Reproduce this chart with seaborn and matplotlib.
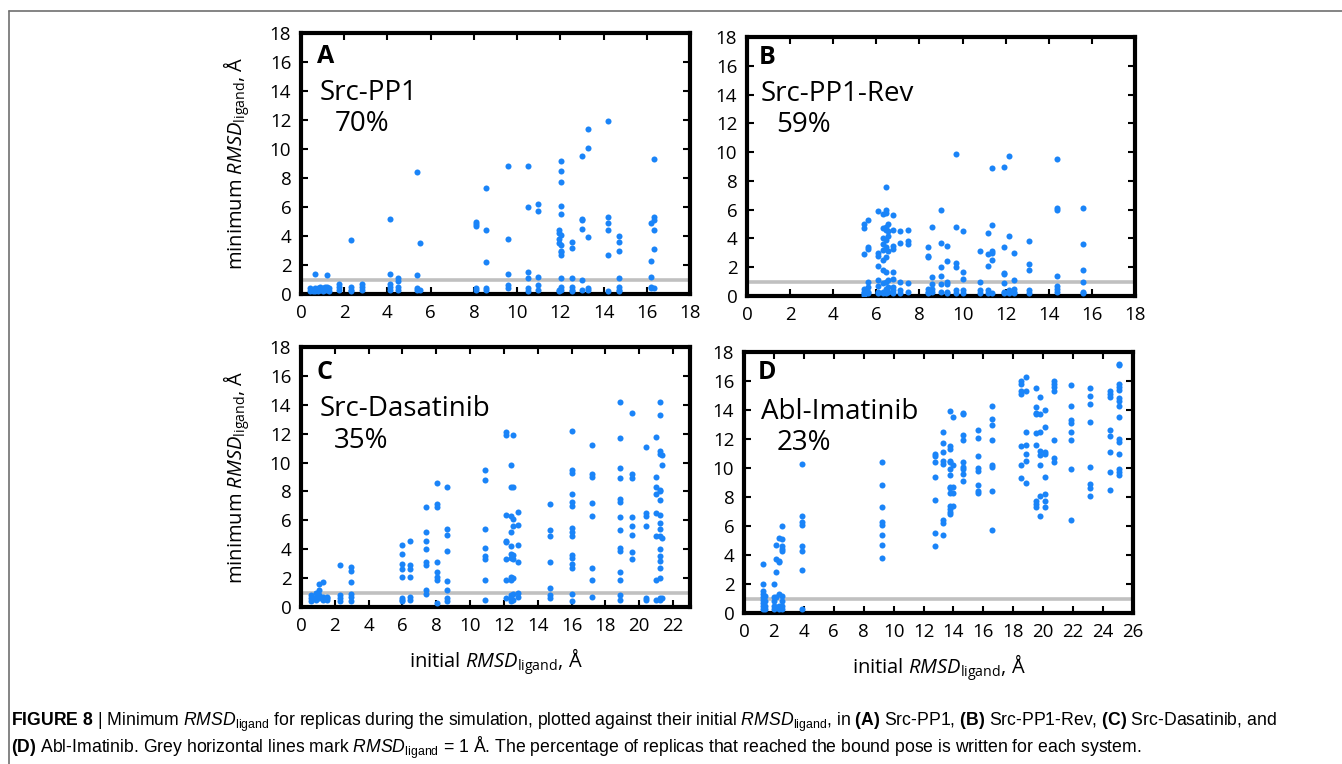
import matplotlib
matplotlib.use("Agg")
import matplotlib.pyplot as plt
import seaborn as sns
import pandas as pd
from matplotlib import font_manager
from matplotlib.lines import Line2D

# ---------------- data ----------------
# Panel A: Src-PP1  (column x positions and the minimum RMSD values in each column)
a_x = [0.4, 0.55, 0.65, 0.8, 0.9, 1.0, 1.1, 1.2, 1.3, 1.75, 2.3, 2.8, 4.1, 4.5, 5.35, 5.5,
       8.1, 8.55, 9.6, 10.5, 10.95, 11.95, 12.05, 12.55, 13.0, 13.3, 14.2, 14.7, 16.2, 16.35]
a_y = [[0.4, 0.2], [0.3, 0.2], [1.4, 0.4, 0.2], [0.4, 0.2], [0.5, 0.3], [0.4, 0.2], [0.5, 0.3],
       [1.3, 0.5, 0.3], [0.4, 0.2], [0.7, 0.5, 0.3], [3.7, 0.5, 0.3, 0.2], [0.7, 0.5, 0.3],
       [5.2, 1.4, 0.7, 0.5, 0.3], [1.1, 0.9, 0.5, 0.3], [8.4, 1.3, 0.4, 0.3], [3.5, 0.3],
       [5.0, 4.85, 4.7, 0.4, 0.3], [7.3, 4.4, 2.2, 0.4, 0.3], [8.8, 3.8, 1.4, 0.6, 0.4],
       [8.8, 6.0, 1.5, 1.1, 0.4, 0.2], [6.2, 5.7, 1.2, 0.6, 0.3], [4.4, 4.2, 3.8, 3.5, 0.3, 0.2],
       [9.2, 8.5, 7.7, 6.1, 5.5, 4.1, 3.4, 3.0, 2.9, 2.7, 1.1, 0.5, 0.3],
       [3.6, 3.2, 1.1, 0.5, 0.3, 0.2], [9.5, 5.2, 5.1, 4.5, 1.0, 0.3], [11.4, 10.1, 3.9, 0.4, 0.3],
       [11.9, 5.3, 4.9, 4.4, 2.7, 0.2], [4.0, 3.6, 3.0, 1.1, 0.5, 0.3, 0.2],
       [4.9, 2.3, 1.2, 0.5, 0.4], [9.3, 5.3, 5.1, 4.4, 3.1, 0.4]]

# Panel B: Src-PP1-Rev
b_x = [5.45, 5.6, 6.1, 6.3, 6.45, 6.55, 6.75, 7.1, 7.45, 8.4, 8.6, 9.0, 9.3, 9.7, 10.0,
       10.8, 11.2, 11.35, 11.9, 12.15, 12.4, 13.1, 14.4, 15.6]
b_y = [[5.0, 4.7, 2.9, 0.5, 0.3, 0.2, 0.1], [5.3, 3.4, 3.3, 1.0, 0.6, 0.3, 0.2],
       [5.9, 3.0, 2.8, 2.1, 1.1, 0.7, 0.3, 0.2], [5.7, 4.7, 4.0, 3.6, 3.2, 2.5, 1.8, 0.9, 0.3, 0.2],
       [7.6, 6.0, 5.8, 4.8, 4.6, 3.9, 3.4, 2.7, 1.7, 1.0, 0.5, 0.3, 0.2],
       [5.0, 4.5, 4.2, 3.1, 1.1, 0.6, 0.3], [5.6, 4.6, 3.5, 3.3, 1.7, 1.2, 0.6, 0.4, 0.2],
       [4.5, 3.7, 1.0, 0.4, 0.2], [4.6, 3.8, 3.6, 0.9, 0.3], [3.4, 2.8, 2.7, 0.5, 0.3, 0.2],
       [4.8, 1.3, 0.8, 0.5, 0.3], [6.0, 3.7, 2.0, 1.4, 0.8, 0.3], [3.5, 2.4, 1.0, 0.8, 0.3, 0.2],
       [9.9, 4.8, 2.3, 2.0, 0.4, 0.2], [4.5, 1.7, 1.2, 0.4, 0.2], [3.1, 1.0, 0.4, 0.2],
       [4.4, 2.9, 2.1, 0.4, 0.2], [8.9, 4.9, 3.1, 3.0, 2.5, 0.2], [9.0, 3.4, 1.6, 1.5, 0.9, 0.3, 0.2],
       [9.7, 4.2, 0.4, 0.2], [3.0, 1.1, 0.5, 0.3, 0.2], [3.8, 2.2, 1.8, 0.4, 0.2],
       [9.5, 6.1, 6.0, 1.4, 0.7, 0.5, 0.3], [6.1, 3.6, 1.8, 1.0, 0.3, 0.2]]

# Panel C: Src-Dasatinib
c_x = [0.6, 0.9, 1.05, 1.3, 1.55, 2.3, 2.95, 5.95, 6.45, 7.4, 8.05, 8.65, 10.85, 12.1, 12.4,
       12.55, 12.85, 14.75, 16.05, 17.2, 18.85, 19.6, 20.4, 21.0, 21.2, 21.35]
c_y = [[0.8, 0.6, 0.4], [1.0, 0.7, 0.5], [1.6, 1.2, 0.8, 0.6], [1.7, 0.7, 0.5], [0.7, 0.6, 0.5],
       [2.9, 0.8, 0.6, 0.4], [2.8, 2.5, 1.7, 0.9, 0.7, 0.4],
       [4.3, 3.7, 3.0, 2.6, 2.1, 0.6, 0.5, 0.4], [4.6, 2.9, 2.6, 2.1, 0.7, 0.5],
       [6.9, 5.2, 4.6, 4.0, 3.1, 2.9, 1.2, 0.9], [8.6, 7.1, 6.9, 3.1, 2.4, 2.1, 1.9, 0.3],
       [8.3, 5.4, 5.0, 3.9, 1.8, 1.2, 0.6, 0.4], [9.5, 8.8, 5.4, 4.1, 3.5, 3.3, 1.9, 0.5],
       [12.1, 11.9, 6.4, 4.6, 4.5, 3.3, 1.9, 0.6],
       [9.8, 8.3, 6.3, 5.2, 4.2, 3.7, 3.4, 2.1, 1.9, 0.8, 0.6, 0.4],
       [11.9, 8.3, 6.1, 5.6, 3.6, 3.3, 2.0, 0.9, 0.5], [6.6, 5.7, 4.3, 3.1, 1.0, 0.7],
       [7.1, 5.3, 4.9, 3.1, 1.3, 0.8, 0.6],
       [12.2, 9.5, 9.3, 7.8, 7.3, 7.0, 5.5, 5.2, 4.9, 3.6, 3.4, 3.0, 2.7, 0.9, 0.4],
       [11.2, 9.2, 9.0, 7.2, 6.3, 2.7, 1.9, 0.7],
       [14.2, 11.7, 9.6, 8.9, 7.5, 7.3, 6.2, 5.3, 4.1, 3.9, 2.4, 1.9, 0.8, 0.5],
       [13.4, 9.2, 8.9, 6.2, 5.6, 5.0, 3.8, 3.3], [11.1, 6.5, 6.3, 5.6, 0.6, 0.5],
       [11.8, 9.0, 8.3, 7.8, 6.5, 4.9, 1.9, 0.5],
       [14.2, 13.3, 10.8, 10.6, 8.1, 8.0, 7.4, 6.4, 5.8, 5.4, 4.9, 4.0, 3.5, 3.2, 2.7, 2.0, 0.6, 0.5],
       [10.5, 9.8, 4.8, 0.6]]

# Panel D: Abl-Imatinib
d_x = [1.3, 1.4, 2.0, 2.15, 2.35, 2.55, 3.85, 9.2, 12.75, 13.3, 13.8, 13.95, 14.65, 15.65,
       16.55, 18.5, 18.85, 19.5, 19.8, 20.1, 20.7, 21.85, 23.1, 24.45, 25.05]
d_y = [[3.4, 2.0, 1.5, 1.3, 1.1, 0.9, 0.7, 0.5, 0.3], [1.2, 0.8, 0.5, 0.3],
       [2.0, 1.1, 0.8, 0.5, 0.3], [4.7, 3.7, 2.8, 1.1, 0.4], [5.2, 3.6, 3.5, 1.3, 0.5, 0.3],
       [6.0, 5.1, 4.6, 4.4, 4.3, 1.2, 0.8, 0.5, 0.3], [10.3, 6.7, 6.3, 6.1, 4.6, 4.3, 3.0, 0.3],
       [10.4, 8.8, 7.3, 6.3, 6.1, 5.4, 4.7, 3.8], [11.0, 10.8, 10.4, 9.4, 7.8, 5.5, 4.6],
       [12.5, 11.7, 11.1, 10.5, 10.3, 6.4, 6.2, 5.4],
       [13.9, 11.5, 11.3, 10.5, 10.4, 9.9, 9.5, 8.7, 8.6, 8.3, 7.4, 7.2, 7.0, 6.8],
       [13.5, 10.2, 8.7, 8.3, 7.4], [13.8, 13.7, 12.3, 11.9, 10.4, 10.1, 9.9, 9.6, 9.1],
       [12.6, 12.1, 10.8, 10.0, 9.8, 8.8, 8.4, 8.3], [14.3, 13.4, 13.0, 11.9, 10.2, 10.1, 8.4, 5.7],
       [16.0, 15.8, 15.3, 15.1, 11.5, 10.2, 9.3], [16.3, 15.3, 12.5, 11.6, 11.0, 10.5, 9.0],
       [15.5, 14.2, 13.8, 13.7, 12.4, 11.6, 7.7, 7.5, 7.3], [14.9, 13.7, 12.5, 11.2, 10.9, 10.2, 8.1, 6.7],
       [14.0, 12.8, 11.1, 11.0, 9.4, 8.2, 7.7, 7.3], [16.0, 15.8, 15.6, 15.3, 11.9, 10.7, 10.4],
       [15.7, 14.3, 13.3, 13.1, 12.5, 11.9, 9.9, 6.4], [15.5, 15.0, 14.4, 13.2, 10.1, 8.9, 8.6, 8.1],
       [15.3, 15.1, 14.9, 12.6, 12.2, 11.1, 9.7, 8.5],
       [17.2, 17.1, 15.8, 15.6, 15.4, 14.8, 14.6, 14.3, 13.5, 12.0, 11.8, 11.0, 9.9, 9.7, 9.5]]

panel_letters = ["A", "B", "C", "D"]
system_names = ["Src-PP1", "Src-PP1-Rev", "Src-Dasatinib", "Abl-Imatinib"]
percentages = ["70%", "59%", "35%", "23%"]
x_limits = [18, 18, 23, 26]
x_tick_max = [18, 18, 22, 26]
y_ticks = list(range(0, 19, 2))
threshold = 1.0


def to_frame(xs, ys):
    rows = [(x, y) for x, col in zip(xs, ys) for y in col]
    return pd.DataFrame(rows, columns=["initial", "minimum"])


frames = [to_frame(a_x, a_y), to_frame(b_x, b_y), to_frame(c_x, c_y), to_frame(d_x, d_y)]

# ---------------- style ----------------
sns.set_theme(style="ticks")
avail = {f.name for f in font_manager.fontManager.ttflist}
main_font = "Open Sans" if "Open Sans" in avail else "DejaVu Sans"
cap_font = "Liberation Sans Narrow" if "Liberation Sans Narrow" in avail else "Liberation Sans"
plt.rcParams["font.family"] = [main_font, "DejaVu Sans"]
plt.rcParams["text.color"] = "black"
plt.rcParams["axes.labelcolor"] = "black"
plt.rcParams["xtick.color"] = "black"
plt.rcParams["ytick.color"] = "black"
plt.rcParams["mathtext.fontset"] = "custom"
plt.rcParams["mathtext.rm"] = main_font
plt.rcParams["mathtext.it"] = main_font + ":italic"
plt.rcParams["mathtext.bf"] = cap_font + ":bold"
plt.rcParams["mathtext.sf"] = cap_font
plt.rcParams["mathtext.cal"] = cap_font + ":italic"

W, H = 1342, 764
fig = plt.figure(figsize=(W / 100, H / 100), dpi=100)
fig.patch.set_facecolor("white")

# axes boxes in pixels: left, top, right, bottom
boxes = [(301, 33, 690, 294), (747, 37, 1135, 296), (301, 347, 690, 607), (744, 352, 1133, 613)]
txt_pos = [  # (letter x, letter y, name x, name y, pct x, pct y) in axes fraction
    (0.04, 0.91, 0.048, 0.77, 0.086, 0.65),
    (0.03, 0.92, 0.034, 0.78, 0.075, 0.66),
    (0.04, 0.90, 0.047, 0.76, 0.085, 0.64),
    (0.035, 0.92, 0.044, 0.77, 0.083, 0.65),
]
dot_color = "#1a84f8"

for i, (l, t, r, b) in enumerate(boxes):
    ax = fig.add_axes([l / W, (H - b) / H, (r - l) / W, (b - t) / H])
    ax.axhline(threshold, color="#c0c0c0", lw=2.6, zorder=1)
    sns.scatterplot(data=frames[i], x="initial", y="minimum", ax=ax, color=dot_color,
                    s=19, linewidth=0, legend=False, zorder=3)
    ax.set_xlim(0, x_limits[i])
    ax.set_ylim(0, 18)
    ax.set_xticks(list(range(0, x_tick_max[i] + 1, 2)))
    ax.set_yticks(y_ticks)
    ax.tick_params(direction="in", top=True, right=True, length=5, width=1.5,
                   labelsize=13.5, pad=7, colors="black")
    for s in ax.spines.values():
        s.set_linewidth(3.0)
        s.set_color("black")
    ax.set_xlabel("")
    ax.set_ylabel("")
    lx, ly, nx, ny, px, py = txt_pos[i]
    ax.text(lx, ly, panel_letters[i], transform=ax.transAxes, fontsize=18,
            fontweight="bold", va="center", ha="left", color="black")
    ax.text(nx, ny, system_names[i], transform=ax.transAxes, fontsize=20,
            va="center", ha="left", color="black")
    ax.text(px, py, percentages[i], transform=ax.transAxes, fontsize=20,
            va="center", ha="left", color="black")
    if i in (0, 2):
        ax.set_ylabel(r"minimum $\mathit{RMSD}_{\mathrm{ligand}}$, Å", fontsize=14.5)
        ax.yaxis.set_label_coords(-0.125, 0.5)
    if i in (2, 3):
        ax.set_xlabel(r"initial $\mathit{RMSD}_{\mathrm{ligand}}$, Å", fontsize=14.5)
        ax.xaxis.set_label_coords(0.5, -0.15)

# frame lines of the figure box
fig.add_artist(Line2D([9 / W, 1.0], [(H - 11) / H] * 2, color="#707070", lw=1.2))
fig.add_artist(Line2D([9 / W] * 2, [0, (H - 11) / H], color="#707070", lw=1.2))

# caption
line1 = (r"$\mathbf{FIGURE\ 8}$ | Minimum $\mathcal{RMSD}_{\mathsf{ligand}}$ for replicas during the "
         r"simulation, plotted against their initial $\mathcal{RMSD}_{\mathsf{ligand}}$, in "
         r"$\mathbf{(A)}$ Src-PP1, $\mathbf{(B)}$ Src-PP1-Rev, $\mathbf{(C)}$ Src-Dasatinib, and")
line2 = (r"$\mathbf{(D)}$ Abl-Imatinib. Grey horizontal lines mark $\mathcal{RMSD}_{\mathsf{ligand}}$"
         r" = 1 Å. The percentage of replicas that reached the bound pose is written for each system.")
t1 = fig.text(11 / W, (H - 722) / H, line1, fontsize=11, family=cap_font, va="center", ha="left",
              color="black")
t2 = fig.text(11 / W, (H - 748) / H, line2, fontsize=11, family=cap_font, va="center", ha="left",
              color="black")
fig.canvas.draw()
rend = fig.canvas.get_renderer()
w1 = t1.get_window_extent(rend).width
size = 11 * (1267 / w1)
t1.set_fontsize(size)
t2.set_fontsize(size)

fig.savefig("out.png", dpi=100, facecolor="white")
